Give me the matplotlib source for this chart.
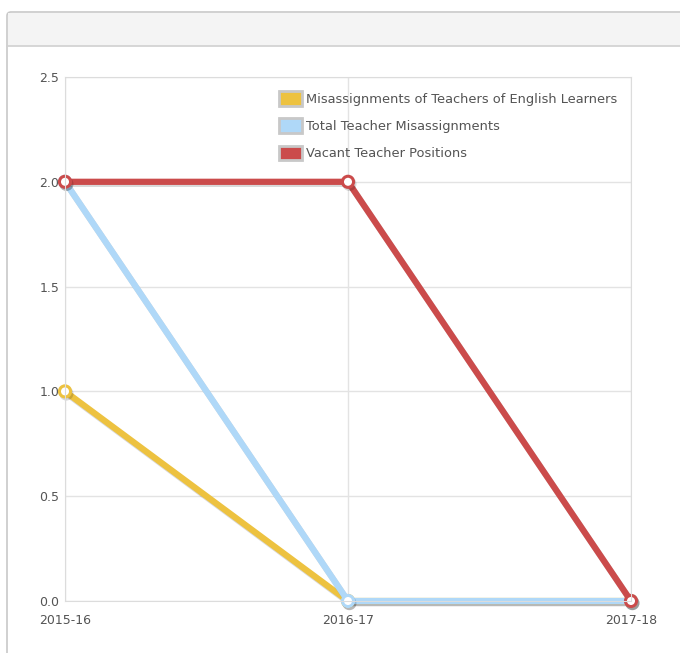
import matplotlib
matplotlib.use("Agg")
import matplotlib.pyplot as plt
import matplotlib.patheffects as pe
from matplotlib.patches import Patch, FancyBboxPatch, Rectangle
from matplotlib.lines import Line2D

years = ["2015-16", "2016-17", "2017-18"]
el_misassign = [1, 0, 0]
total_misassign = [2, 0, 0]
vacant = [2, 2, 0]

labels = ["Misassignments of Teachers of English Learners",
          "Total Teacher Misassignments",
          "Vacant Teacher Positions"]
colors = ["#edc240", "#afd8f8", "#cb4b4b"]
series = [el_misassign, total_misassign, vacant]

W, H = 680, 653
fig = plt.figure(figsize=(W / 100, H / 100), dpi=100)
fig.patch.set_facecolor("white")

# panel outline and header strip
panel = FancyBboxPatch((7 / W, -0.1), 1.2, 1 - 12 / H + 0.1,
                       boxstyle="round,pad=0,rounding_size=0.006",
                       transform=fig.transFigure, facecolor="white",
                       edgecolor="#c8c8c8", linewidth=1.2, zorder=-2)
fig.patches.append(panel)
header = Rectangle((8 / W, 1 - 46 / H), 1.0, (46 - 13) / H,
                   transform=fig.transFigure, facecolor="#f4f4f4",
                   edgecolor="none", zorder=-1.5)
fig.patches.append(header)
fig.add_artist(Line2D([7 / W, 1], [1 - 46 / H, 1 - 46 / H],
                      transform=fig.transFigure, color="#d0d0d0", lw=1.2,
                      zorder=-1))

ax = fig.add_axes([65 / W, 52 / H, 566 / W, 524 / H])
ax.set_zorder(1)
ax.patch.set_alpha(0)
x = list(range(len(years)))

for vals, col in zip(series, colors):
    ax.plot(x, vals, color=col, lw=4.5, solid_capstyle="round",
            marker="o", markersize=8, markerfacecolor="white",
            markeredgecolor=col, markeredgewidth=2.2, clip_on=False,
            path_effects=[pe.SimpleLineShadow(offset=(1, -1.5),
                                              shadow_color="#000000",
                                              alpha=0.15),
                          pe.Normal()])

ax.set_xlim(0, 2)
ax.set_ylim(0, 2.5)
ax.set_xticks(x)
ax.set_xticklabels(years)
ax.set_yticks([0, 0.5, 1.0, 1.5, 2.0, 2.5])
ax.set_yticklabels(["0.0", "0.5", "1.0", "1.5", "2.0", "2.5"])
ax.grid(True, color="#e3e3e3", lw=1)
ax.set_axisbelow(True)
for s in ax.spines.values():
    s.set_color("#dcdcdc")
ax.tick_params(length=0, labelsize=9, colors="#545454", pad=4)
ax.tick_params(axis="x", pad=9)

handles = [Patch(facecolor=c, edgecolor="#c8c8c8", linewidth=2) for c in colors]
ax.legend(handles, labels, loc="upper left",
          bbox_to_anchor=(279 / W, 1 - 91 / H), bbox_transform=fig.transFigure,
          frameon=False, fontsize=9.4, labelcolor="#545454",
          handlelength=1.75, handleheight=1.35, handletextpad=0.3,
          labelspacing=0.97, borderpad=0, borderaxespad=0)

fig.savefig("out.png", dpi=100)
